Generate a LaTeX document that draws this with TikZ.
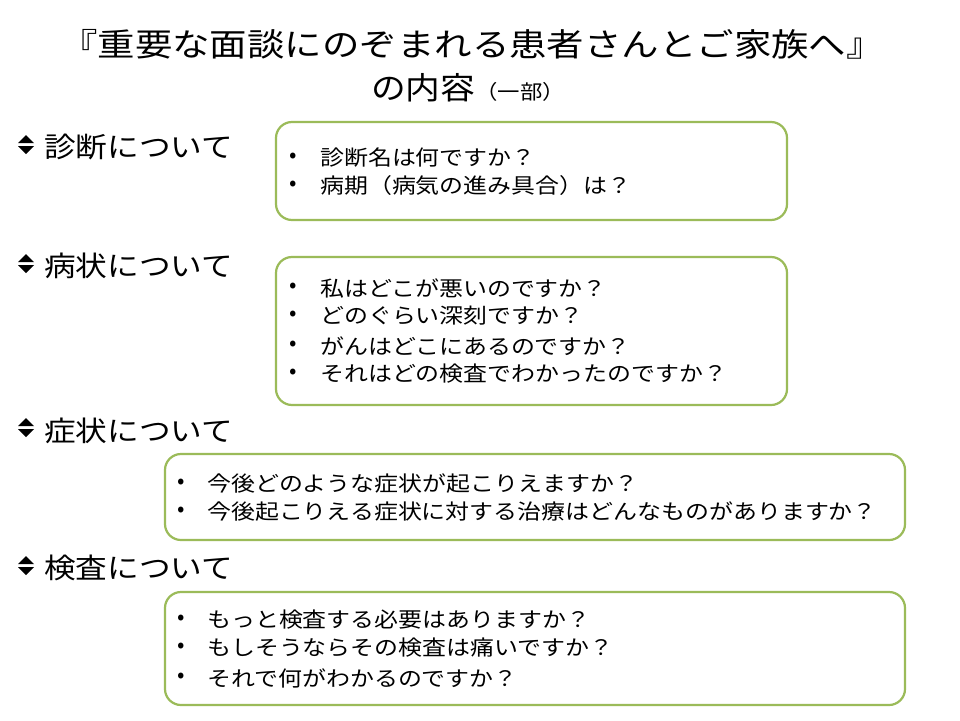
\documentclass[tikz,border=0pt]{standalone}
\usepackage{fontspec}
\setmainfont{Noto Sans CJK JP}
\begin{document}
\begin{tikzpicture}[x=1pt,y=-1pt,
  box/.style={draw=boxgreen,line width=2.2pt,rounded corners=16pt},
  head/.style={anchor=west,inner sep=0,xscale=1.13,font=\fontsize{28}{30}\selectfont},
  item/.style={anchor=west,inner sep=0,xscale=1.14,font=\fontsize{21}{22}\selectfont},
  dot/.style={anchor=center,inner sep=0,font=\fontsize{22}{22}\selectfont}]
\definecolor{boxgreen}{HTML}{9BBB59}
\useasboundingbox (0,0) rectangle (960,720);
\fill[white] (0,0) rectangle (960,720);
\node[inner sep=0,xscale=1.17,font=\fontsize{32}{32}\selectfont] (t1) at (472,44) {『重要な面談にのぞまれる患者さんとご家族へ』};
\node[inner sep=0,xscale=1.12,font=\fontsize{31}{32}\selectfont] (t2) at (468,88) {の内容{\fontsize{20}{22}\selectfont （一部）}};
\newcommand\diam[2]{%
  \fill (#1-8,#2-2) -- (#1,#2-10) -- (#1+8,#2-2) -- cycle;
  \fill (#1-8,#2+1) -- (#1,#2+9) -- (#1+8,#2+1) -- cycle;}
\diam{26}{145}\diam{26}{264}\diam{26}{428}\diam{26}{566}
\node[head] (h1) at (44,147) {診断について};
\node[head] (h2) at (44,266) {病状について};
\node[head] (h3) at (44,431) {症状について};
\node[head] (h4) at (44,568) {検査について};
\draw[box] (276,122) rectangle (787,220);
\draw[box] (276,257) rectangle (787,405);
\draw[box] (165,454) rectangle (905,540);
\draw[box] (165,592) rectangle (905,705);
\foreach \y/\t [count=\i] in {158/診断名は何ですか？,186/病期（病気の進み具合）は？}
  {\node[dot] (b1\i) at (293,\y) {•}; \node[item] (a1\i) at (320,\y) {\t};}
\foreach \y/\t [count=\i] in {288/私はどこが悪いのですか？,316/どのぐらい深刻ですか？,346/がんはどこにあるのですか？,374/それはどの検査でわかったのですか？}
  {\node[dot] (b2\i) at (293,\y) {•}; \node[item] (a2\i) at (320,\y) {\t};}
\foreach \y/\t [count=\i] in {484/今後どのような症状が起こりえますか？,512/今後起こりえる症状に対する治療はどんなものがありますか？}
  {\node[dot] (b3\i) at (181,\y) {•}; \node[item] (a3\i) at (207,\y) {\t};}
\foreach \y/\t [count=\i] in {620/もっと検査する必要はありますか？,648/もしそうならその検査は痛いですか？,678/それで何がわかるのですか？}
  {\node[dot] (b4\i) at (181,\y) {•}; \node[item] (a4\i) at (207,\y) {\t};}
\end{tikzpicture}
\end{document}
